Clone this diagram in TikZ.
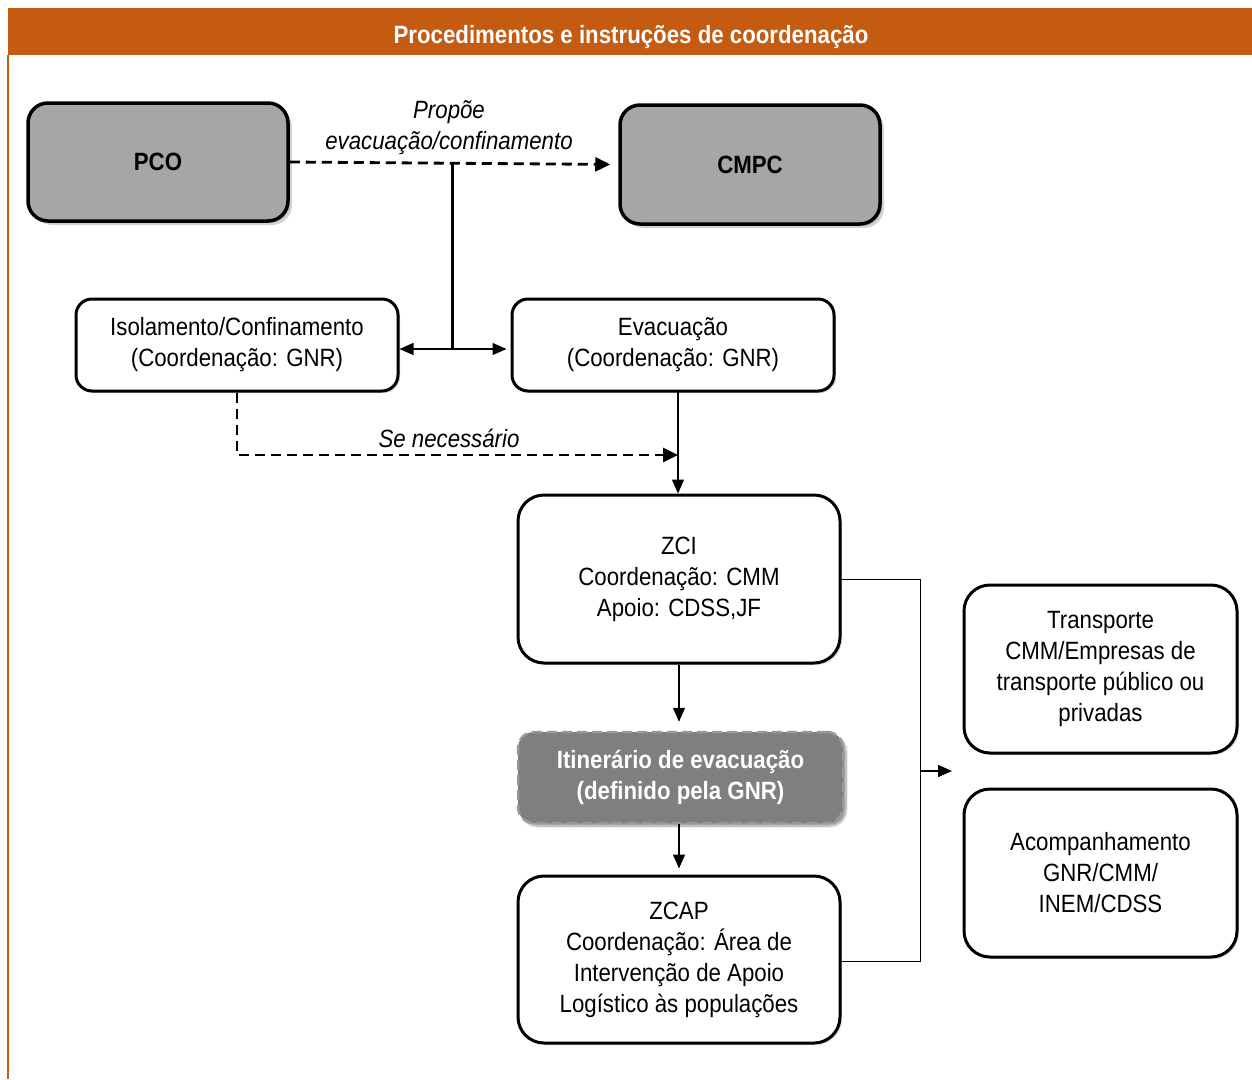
\documentclass[tikz,border=0pt]{standalone}
\usepackage{fontspec}
\setmainfont{Liberation Sans}[FakeStretch=0.89]
\usetikzlibrary{arrows.meta,shadows,shadows.blur}
\definecolor{hdr}{HTML}{C55A11}
\definecolor{boxgray}{HTML}{A6A6A6}
\definecolor{itingray}{HTML}{7F7F7F}
\newcommand{\fsz}{\fontsize{25}{31}\selectfont}
\begin{document}
\begin{tikzpicture}[x=1pt,y=-1pt,
  box/.style={draw=black, line width=3pt, rounded corners=20pt, fill=white, align=center,
    font=\fsz, inner sep=0pt, drop shadow={shadow xshift=2pt,shadow yshift=-2pt,opacity=0.3}},
  gbox/.style={box, line width=3.5pt, fill=boxgray, font=\fsz\bfseries,
    drop shadow={shadow xshift=4pt,shadow yshift=-4pt,opacity=0.35}},
  itin/.style={draw=gray!80, dashed, dash pattern=on 10pt off 5pt, line width=2.5pt, rounded corners=16pt,
    fill=itingray, text=white, font=\fsz\bfseries, align=center, inner sep=0pt,
    blur shadow={shadow xshift=3pt, shadow yshift=-3pt, shadow blur steps=8, shadow opacity=40}},
  arr/.style={line width=1.3pt, -{Triangle[length=14pt,width=12pt]}},
  darr/.style={line width=2.8pt, dash pattern=on 10pt off 6pt, -{Triangle[length=15pt,width=14pt]}},
  lbl/.style={font=\fsz\itshape, align=center, inner sep=0pt}
]
\useasboundingbox (0,0) rectangle (1252,1079);
% header
\fill[hdr] (8,8) rectangle (1252,55);
\node[text=white, font=\fsz\bfseries, inner sep=0pt] (title) at (631,37) {Procedimentos e instruções de coordenação};
\draw[hdr, line width=1.5pt] (8,55) -- (8,1079);

% nodes
\node[gbox, minimum width=260pt, minimum height=118pt] (PCO) at (158,162) {PCO};
\node[gbox, minimum width=260pt, minimum height=119pt] (CMPC) at (750,164.5) {CMPC};
\node[box, minimum width=322pt, minimum height=92pt, rounded corners=16pt] (Iso) at (237,345) {Isolamento/Confinamento\\(Coordenação: GNR)};
\node[box, minimum width=322pt, minimum height=92pt, rounded corners=16pt] (Evac) at (673,345) {Evacuação\\(Coordenação: GNR)};
\node[box, minimum width=322pt, minimum height=168pt, rounded corners=26pt] (ZCI) at (679,579) {ZCI\\Coordenação: CMM\\Apoio: CDSS,JF};
\node[itin, minimum width=325pt, minimum height=91pt] (Itin) at (680.5,777.5) {Itinerário de evacuação\\(definido pela GNR)};
\node[box, minimum width=322pt, minimum height=167pt, rounded corners=26pt] (ZCAP) at (679,959.5) {ZCAP\\Coordenação: Área de\\Intervenção de Apoio\\Logístico às populações};
\node[box, minimum width=273pt, minimum height=168pt, rounded corners=26pt] (Transp) at (1100.5,669) {Transporte\\CMM/Empresas de\\transporte público ou\\privadas};
\node[box, minimum width=273pt, minimum height=168pt, rounded corners=26pt] (Acomp) at (1100.5,873) {Acompanhamento\\GNR/CMM/\\INEM/CDSS};

% labels
\node[lbl] (lprop) at (449,128) {Propõe\\evacuação/confinamento};
\node[lbl] (lse) at (449,438) {Se necessário};

% connectors
\draw[darr, shorten >=8pt] (PCO.east) -- (CMPC.west);
\coordinate (j1) at (452,162);
\coordinate (j2) at (452,349);
\draw[line width=3pt] (j1) -- (j2);
\draw[arr] (j2) -- (j2 -| Iso.east);
\draw[arr, shorten >=4pt] (j2) -- (j2 -| Evac.west);
\coordinate (ev) at (678,391);
\draw[arr] (ev) -- (ev |- ZCI.north);
\coordinate (sn) at (678,455);
\draw[darr] (Iso.south) |- (sn);
\draw[arr, shorten >=9pt] (ZCI.south) -- (ZCI.south |- Itin.north);
\draw[arr, shorten >=6pt] (ZCI.south |- Itin.south) -- (ZCAP.north);
\coordinate (b1) at (920,579);
\coordinate (b2) at (920,961);
\coordinate (bm) at (920,771);
\coordinate (bt) at (952,771);
\draw[line width=1pt] (ZCI.east) -- (b1) -- (b2) -- (b2 -| ZCAP.east);
\draw[arr] (bm) -- (bt);
\end{tikzpicture}
\end{document}
